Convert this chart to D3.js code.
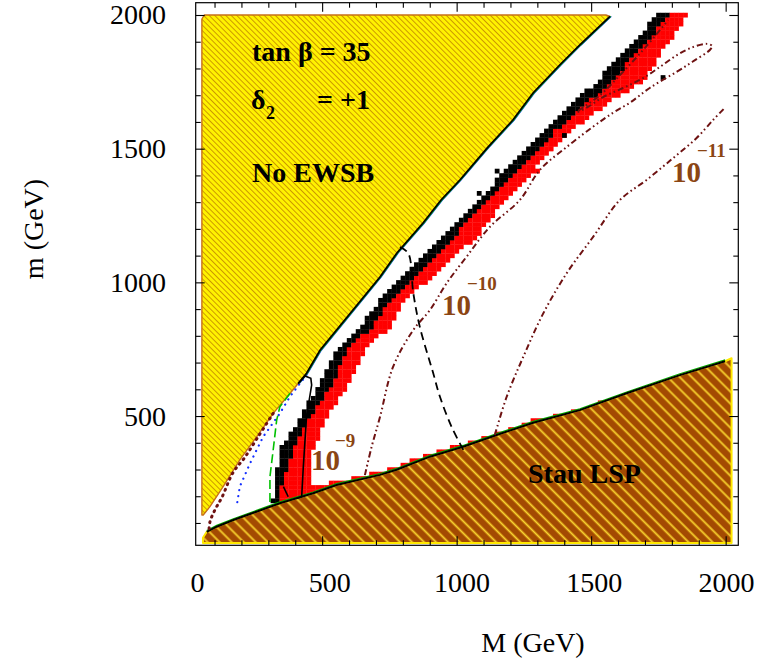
<!DOCTYPE html>
<html><head><meta charset="utf-8">
<script src="https://cdn.jsdelivr.net/npm/d3@7"></script>
<style>body{margin:0;background:#fff}svg{display:block}</style>
</head><body><svg id="c" width="757" height="664"></svg>
<script>
// ---------------- data ----------------
const xTickLabels = [0, 500, 1000, 1500, 2000];
const yTickLabels = [500, 1000, 1500, 2000];
const majorTicks = [500, 1000, 1500, 2000];
const minorTicks = [100,200,300,400,600,700,800,900,1100,1200,1300,1400,1600,1700,1800,1900];

// No EWSB region boundary (M, m)
const ewsbM = [53, 62, 1555, 1570, 1458, 1384, 1284, 1209, 1113, 1012, 942, 875, 778, 715, 492, 442, 381, 318, 257, 194, 132, 83, 58, 53];
const ewsbm = [1985, 2000, 2000, 1995, 1888, 1814, 1708, 1607, 1502, 1383, 1308, 1222, 1110, 1020, 746, 660, 585, 510, 423, 336, 236, 161, 130, 130];

// Stau LSP region boundary (top edge, right to left) + bottom corners
const stauM = [2022, 1998, 1830, 1632, 1458, 1285, 1149, 1024, 901, 777, 715, 554, 467, 343, 256, 170, 108, 71, 57, 57, 2022];
const staum = [716, 705, 653, 585, 522, 475, 429, 385, 348, 299, 280, 242, 211, 174, 142, 111, 86, 67, 45, 25, 25];

// relic-density strip: m rows, black left edge, black/red interface, red right edge
const bandm      = [2008, 1906, 1869, 1757, 1682, 1559, 1432, 1308, 1184, 1057, 934, 833, 747, 624, 496, 373, 249, 170];
const bandLeftM  = [1749, 1667, 1626, 1525, 1447, 1310, 1198, 1076,  957,  838, 715, 641, 548, 492, 418, 343, 325, 313];
const bandMidM   = [1800, 1711, 1670, 1588, 1496, 1358, 1246, 1113, 1001,  882, 752, 685, 592, 540, 455, 392, 351, 343];
const bandRightM = [1860, 1800, 1767, 1700, 1581, 1410, 1298, 1180, 1087,  949, 808, 752, 659, 603, 518, 466, 455, 418];

// coannihilation red strip above stau boundary (upper edge)
const coanM   = [330, 420, 500, 600, 715, 777, 901, 1024, 1149, 1285, 1400, 1480, 1560];
const coanTop = [252, 244, 244, 266, 294, 314, 360, 396, 438, 484, 508, 530, 563];

// isolated cells
const isoBlack = [[1142,1413],[1087,1327],[1403,1543],[1760,1762],[1150,1380]];
const isoRed   = [[1347,1506],[1299,1413]];

// g-2 contours (dash-dot-dot)
const cAM = [659, 684, 715, 764, 839, 901, 963, 1037, 1124, 1235, 1310, 1410, 1507, 1581, 1644, 1719, 1819, 1878, 1942, 1950, 1930, 1878, 1819, 1756, 1693, 1619, 1544, 1488, 1447, 1533, 1607, 1700, 1786];
const cAm = [279, 385, 496, 685, 822, 897, 997, 1096, 1208, 1308, 1421, 1507, 1582, 1634, 1672, 1728, 1788, 1826, 1870, 1884, 1892, 1880, 1850, 1806, 1764, 1727, 1693, 1656, 1637, 1700, 1775, 1877, 1981];
const cBM = [1142, 1186, 1248, 1322, 1409, 1508, 1607, 1706, 1805, 1892, 1954, 1997];
const cBm = [429, 572, 722, 884, 1034, 1171, 1308, 1383, 1465, 1540, 1608, 1653];
const cCM = [318, 261, 213, 168, 128, 101, 83, 79];
const cCm = [510, 421, 346, 287, 197, 148, 104, 62];

// black dashed contour
const dashM = [789, 820, 839, 863, 913, 938, 981, 1025];
const dashm = [1132, 1109, 959, 834, 660, 572, 460, 373];
// black solid contour loop
const loopM = [411, 436, 458, 461, 442, 430, 424, 405];
const loopm = [622, 650, 641, 616, 498, 310, 198, 192];
const segM = [356, 374];
const segm = [236, 198];
// green dashed and blue dotted
const gM = [381, 343, 331, 318, 306, 306];
const gm = [585, 535, 485, 373, 273, 174];
const bM = [442, 380, 343, 281, 232, 194, 182];
const bm = [654, 572, 510, 423, 323, 236, 161];

// ---------------- drawing ----------------
const svg = d3.select('#c');
const x = d3.scaleLinear().domain([30, 2047]).range([195.7, 738.3]);
const y = d3.scaleLinear().domain([16.5, 2046]).range([545.3, 2.7]);
const xl = d3.scaleLinear().domain([0, 2000]).range([197, 726]);

const defs = svg.append('defs');
const hy = 3.9;
const py = defs.append('pattern').attr('id','hatchY').attr('patternUnits','userSpaceOnUse')
  .attr('width',hy).attr('height',hy).attr('patternTransform','rotate(-45)');
py.append('rect').attr('width',hy).attr('height',hy).attr('fill','#FFF200');
py.append('line').attr('x1',0.5).attr('y1',-1).attr('x2',0.5).attr('y2',hy+1).attr('stroke','#C08400').attr('stroke-width',0.8);
const hb = 8.5;
const pb = defs.append('pattern').attr('id','hatchB').attr('patternUnits','userSpaceOnUse')
  .attr('width',hb).attr('height',hb).attr('patternTransform','rotate(-45)');
pb.append('rect').attr('width',hb).attr('height',hb).attr('fill','#A34A02');
pb.append('line').attr('x1',1.5).attr('y1',-1).attr('x2',1.5).attr('y2',hb+1).attr('stroke','#D89A10').attr('stroke-width',2.4);
pb.append('line').attr('x1',1.5).attr('y1',-1).attr('x2',1.5).attr('y2',hb+1).attr('stroke','#FFE040').attr('stroke-width',0.8);

defs.append('clipPath').attr('id','plotclip').append('rect')
  .attr('x',x(30)).attr('y',y(2046)).attr('width',x(2047)-x(30)).attr('height',y(16.5)-y(2046));

const g = svg.append('g').attr('clip-path','url(#plotclip)');
const zip = (a,b) => a.map((v,i)=>[v,b[i]]);
const line = d3.line().x(d=>x(d[0])).y(d=>y(d[1]));
const smooth = d3.line().x(d=>x(d[0])).y(d=>y(d[1])).curve(d3.curveCatmullRom);

// No EWSB region
const ewsb = zip(ewsbM, ewsbm);
g.append('path').attr('d', line(ewsb)+'Z').attr('fill','url(#hatchY)')
  .attr('stroke','#C8701A').attr('stroke-width',1.4).attr('stroke-linejoin','round');

// relic density cells
const step = 2000/120;
const blackPoly = zip(bandLeftM, bandm).concat(zip(bandMidM, bandm).reverse());
const redPoly = zip(bandMidM, bandm).concat(zip(bandRightM, bandm).reverse());
const stauTop = zip(stauM.slice(0,19), staum.slice(0,19));
const stauAt = M => { let lo = 0;
  for (let k=0;k<stauTop.length-1;k++){const a=stauTop[k],b=stauTop[k+1]; if (M<=a[0]&&M>=b[0]){lo=a[1]+(b[1]-a[1])*(M-a[0])/(b[0]-a[0]);}}
  return lo; };
const coanPoly = zip(coanM, coanTop).concat(coanM.slice().reverse().map(M=>[M, stauAt(M)-30]));
const cells = [];
for (let i=0;i<=122;i++) for (let j=0;j<=121;j++){
  const M=i*step, m=j*step;
  if (d3.polygonContains(blackPoly,[M,m])) cells.push({M,m,c:'#000'});
  else if (d3.polygonContains(redPoly,[M,m]) || d3.polygonContains(coanPoly,[M,m])) cells.push({M,m,c:'#FF0000'});
}
const snap = v => Math.round(v/step)*step;
isoBlack.forEach(p=>cells.push({M:snap(p[0]),m:snap(p[1]),c:'#000'}));
isoRed.forEach(p=>cells.push({M:snap(p[0]),m:snap(p[1]),c:'#FF0000'}));
g.append('g').selectAll('rect').data(cells).join('rect')
  .attr('x',d=>x(d.M-step/2)).attr('y',d=>y(d.m+step/2))
  .attr('width',d=>x(d.M+step/2)-x(d.M-step/2)+0.3).attr('height',d=>y(d.m-step/2)-y(d.m+step/2)+0.3)
  .attr('fill',d=>d.c);

// Stau LSP region
const stau = zip(stauM, staum);
g.append('path').attr('d', line(stau)+'Z').attr('fill','url(#hatchB)')
  .attr('stroke','#FFE800').attr('stroke-width',2).attr('stroke-linejoin','round');
g.append('path').attr('d', line(stauTop.slice(1,18).map(p=>[p[0],p[1]+5]))).attr('fill','none').attr('stroke','#00B000').attr('stroke-width',1.2);
g.append('path').attr('d', line(stauTop.slice(1,18))).attr('fill','none').attr('stroke','#000').attr('stroke-width',2);

// EWSB boundary lines
const diag = ewsb.slice(3,16).concat([[411,622]]);
g.append('path').attr('d', line(zip(bM,bm))).attr('fill','none').attr('stroke','#1530FF')
  .attr('stroke-width',2.2).attr('stroke-linecap','round').attr('stroke-dasharray','0.1,6');
g.append('path').attr('d', line(diag.map(p=>[p[0]+5,p[1]]))).attr('fill','none').attr('stroke','#1530FF').attr('stroke-width',1.2);
g.append('path').attr('d', line(diag.map(p=>[p[0]+3,p[1]]))).attr('fill','none').attr('stroke','#00C000').attr('stroke-width',1.2);
g.append('path').attr('d', line(diag)).attr('fill','none').attr('stroke','#000').attr('stroke-width',1.6);
g.append('path').attr('d', line(zip(gM,gm))).attr('fill','none').attr('stroke','#00C000').attr('stroke-width',1.6).attr('stroke-dasharray','9,4');

// g-2 contours
const maroon = '#6E1212';
[[cAM,cAm],[cBM,cBm]].forEach(([a,b])=>{
  g.append('path').attr('d', smooth(zip(a,b)))
   .attr('fill','none').attr('stroke',maroon).attr('stroke-width',2)
   .attr('stroke-dasharray','6,3,1.6,3,1.6,3');
});
g.append('path').attr('d', smooth(zip(cCM,cCm)))
   .attr('fill','none').attr('stroke',maroon).attr('stroke-width',3).attr('stroke-linecap','round')
   .attr('stroke-dasharray','1,5');

// black dashed & loop
g.append('path').attr('d', smooth(zip(dashM,dashm)))
  .attr('fill','none').attr('stroke','#000').attr('stroke-width',1.8).attr('stroke-dasharray','8,5');
g.append('path').attr('d', line(zip(loopM,loopm))).attr('fill','none').attr('stroke','#000').attr('stroke-width',1.6);
g.append('path').attr('d', line(zip(segM,segm))).attr('fill','none').attr('stroke','#000').attr('stroke-width',1.6);

// ---------------- labels ----------------
const serif = "'Liberation Serif','Times New Roman',serif";
const T = (txt, px, py_, size, color, weight) => svg.append('text').attr('x',px).attr('y',py_)
  .attr('font-family',serif).attr('font-size',size).attr('font-weight',weight||'bold').attr('fill',color||'#000').text(txt);
T('tan \u03B2 = 35', 252, 61, 28);
T('\u03B4', 251, 109, 28);
T('2', 266, 119, 18);
T('= +1', 317, 109, 28);
T('No EWSB', 252, 182, 28);
T('Stau LSP', 528, 483, 28);
const brn = '#8B4513';
T('10', 311, 470, 29, brn); T('\u22129', 335, 447, 19, brn);
T('10', 442, 315, 29, brn); T('\u221210', 467, 290, 19, brn);
T('10', 672, 182, 29, brn); T('\u221211', 697, 157, 19, brn);

// ---------------- axes ----------------
svg.append('rect').attr('x',x(30)).attr('y',y(2046)).attr('width',x(2047)-x(30)).attr('height',y(16.5)-y(2046))
  .attr('fill','none').attr('stroke','#000').attr('stroke-width',1.2);
const tickAxis = (gen, scale, vals, len, tr) => {
  const a = svg.append('g').attr('transform',tr).call(gen(scale).tickValues(vals).tickSize(-len).tickFormat(''));
  a.select('.domain').remove();
  a.selectAll('line').attr('stroke','#000').attr('stroke-width',1.1);
};
[[majorTicks,9],[minorTicks,5]].forEach(([v,l])=>{
  tickAxis(d3.axisBottom, x, v, l, `translate(0,${y(16.5)})`);
  tickAxis(d3.axisTop, x, v, l, `translate(0,${y(2046)})`);
  tickAxis(d3.axisLeft, y, v, l, `translate(${x(30)},0)`);
  tickAxis(d3.axisRight, y, v, l, `translate(${x(2047)},0)`);
});
const ax = svg.append('g').attr('transform','translate(0,569)')
  .call(d3.axisBottom(xl).tickValues(xTickLabels).tickSize(0).tickPadding(3).tickFormat(d3.format('d')));
ax.select('.domain').remove();
ax.selectAll('text').attr('font-family',serif).attr('font-size',28).attr('fill','#000');
const ay = svg.append('g').attr('transform','translate(169,0)')
  .call(d3.axisLeft(y).tickValues(yTickLabels).tickSize(0).tickPadding(3).tickFormat(d3.format('d')));
ay.select('.domain').remove();
ay.selectAll('text').attr('font-family',serif).attr('font-size',28).attr('fill','#000');

svg.append('text').attr('x',533).attr('y',652).attr('text-anchor','middle')
  .attr('font-family',serif).attr('font-size',28).text('M (GeV)');
svg.append('text').attr('transform','translate(43,229) rotate(-90)').attr('text-anchor','middle')
  .attr('font-family',serif).attr('font-size',28).text('m (GeV)');
</script></body></html>
